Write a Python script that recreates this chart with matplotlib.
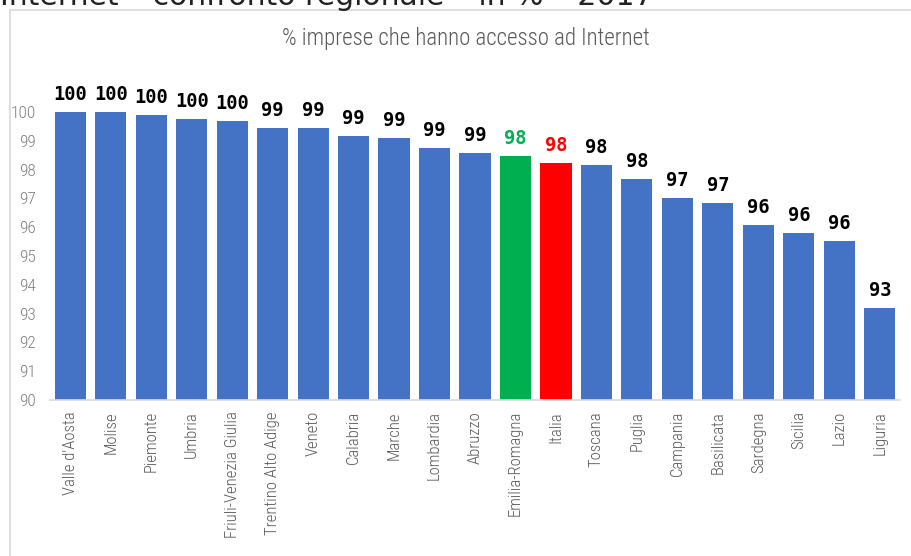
import matplotlib
matplotlib.use("Agg")
import matplotlib.pyplot as plt

regions = ["Valle d'Aosta", "Molise", "Piemonte", "Umbria", "Friuli-Venezia Giulia",
           "Trentino Alto Adige", "Veneto", "Calabria", "Marche", "Lombardia", "Abruzzo",
           "Emilia-Romagna", "Italia", "Toscana", "Puglia", "Campania", "Basilicata",
           "Sardegna", "Sicilia", "Lazio", "Liguria"]
values = [100.0, 100.0, 99.9, 99.75, 99.68, 99.44, 99.44, 99.17, 99.1, 98.75, 98.58,
          98.47, 98.23, 98.16, 97.67, 97.0, 96.84, 96.08, 95.8, 95.52, 93.2]
highlight = {"Emilia-Romagna": "#00B050", "Italia": "#FF0000"}
yticks = list(range(90, 101))
subtitle = "% imprese che hanno accesso ad Internet"
page_title = "Internet \u2013 confronto regionale \u2013 in % \u2013 2017"

thin = ["Roboto Condensed", "Liberation Sans Narrow", "Roboto", "DejaVu Sans"]

W, H = 912, 556
fig = plt.figure(figsize=(W / 100, H / 100), dpi=100)

fig.add_artist(plt.Line2D([10 / W, 10 / W], [0, 1 - 10 / H], color="#d9d9d9", lw=1.2))
fig.add_artist(plt.Line2D([10 / W, 1], [1 - 10 / H, 1 - 10 / H], color="#d9d9d9", lw=1.2))

fig.text(0 / W, 1 - 5 / H, page_title, fontsize=21.5, color="#222222", ha="left", va="baseline",
         family="DejaVu Sans")
fig.text(466 / W, 1 - 38 / H, subtitle, fontsize=16.5, color="#595959", ha="center", va="center",
         family=thin, fontweight="light")

ax = fig.add_axes([50 / W, 1 - 400 / H, 850 / W, 288 / H])
colors = [highlight.get(r, "#4472C4") for r in regions]
x = list(range(len(regions)))
bars = ax.bar(x, values, width=0.77, color=colors, edgecolor="none")
ax.set_ylim(90, 100)
ax.set_xlim(-0.5, len(regions) - 0.5)
ax.set_yticks(yticks)
ax.set_yticklabels([str(t) for t in yticks], fontsize=12.5, color="#808080", family=thin,
                   fontweight="light")
ax.set_xticks(x)
ax.set_xticklabels(regions, rotation=90, fontsize=12, color="#595959", family=thin,
                   fontweight="light", va="top")
ax.tick_params(axis="y", length=0, pad=10)
ax.tick_params(axis="x", length=0, pad=8)
for s in ["top", "right", "left"]:
    ax.spines[s].set_visible(False)
ax.spines["bottom"].set_color("#d9d9d9")
ax.spines["bottom"].set_linewidth(1.2)

for r, b, v in zip(regions, bars, values):
    ax.annotate(f"{v:.0f}", (b.get_x() + b.get_width() / 2, v), xytext=(0, 6),
                textcoords="offset points", ha="center", va="bottom",
                fontsize=13.5, fontweight="bold", family="DejaVu Sans Mono",
                color=highlight.get(r, "#000000"), annotation_clip=False)

fig.savefig("out.png", dpi=100)
